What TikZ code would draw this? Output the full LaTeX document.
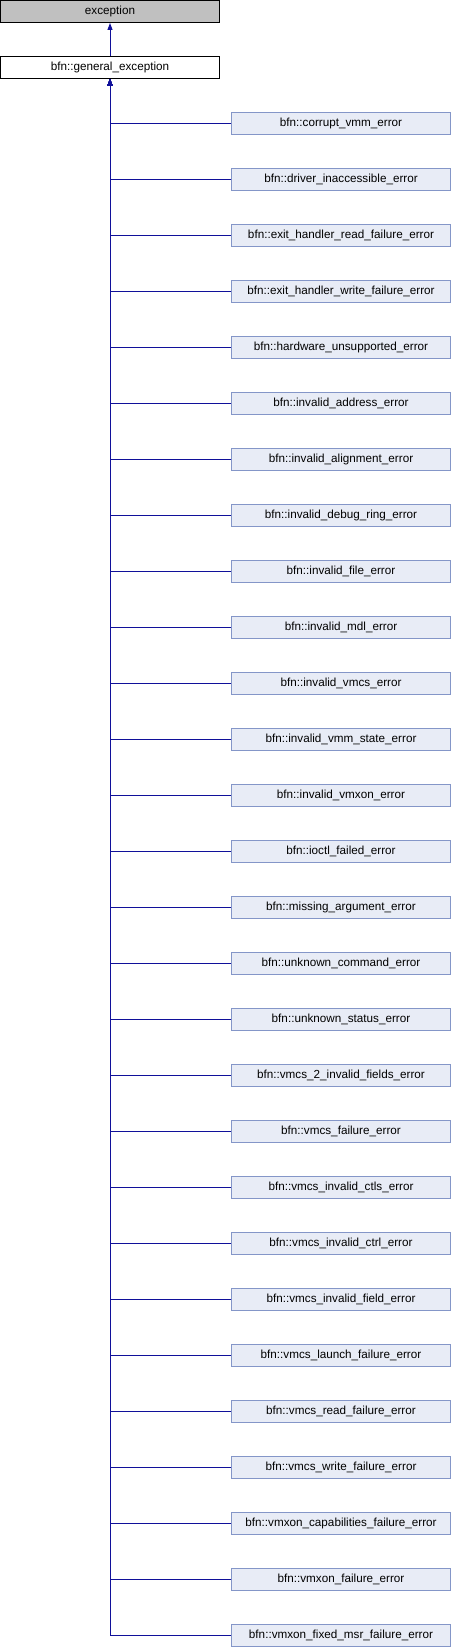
\documentclass[tikz,border=0pt]{standalone}
\usepackage{fontspec}
\setmainfont{Liberation Sans}
\usetikzlibrary{arrows.meta}
\definecolor{linec}{HTML}{10109A}
\definecolor{childfill}{HTML}{E8ECF6}
\definecolor{childdraw}{HTML}{8496C8}
\definecolor{basefill}{HTML}{C0C0C0}
\begin{document}
\begin{tikzpicture}[x=1pt,y=-1pt,
  box/.style={minimum width=219pt,minimum height=22pt,inner sep=0pt,line width=1pt,font=\fontsize{11.7}{13}\selectfont,anchor=center},
  basebox/.style={box,draw=black,fill=basefill},
  genbox/.style={box,draw=black,fill=white},
  childbox/.style={box,draw=childdraw,fill=childfill},
  conn/.style={draw=linec,line width=1pt,-{Triangle[length=7pt,width=5pt]}}]
\useasboundingbox (0,0) rectangle (452,1648);
\node[basebox] (exc) at (110,11.5) {exception};
\node[genbox] (gen) at (110,67.5) {bfn::general\_exception};
\draw[conn] (gen.north) -- (exc.south);
\foreach \lab [count=\i] in {corrupt\_vmm\_error,driver\_inaccessible\_error,exit\_handler\_read\_failure\_error,exit\_handler\_write\_failure\_error,hardware\_unsupported\_error,invalid\_address\_error,invalid\_alignment\_error,invalid\_debug\_ring\_error,invalid\_file\_error,invalid\_mdl\_error,invalid\_vmcs\_error,invalid\_vmm\_state\_error,invalid\_vmxon\_error,ioctl\_failed\_error,missing\_argument\_error,unknown\_command\_error,unknown\_status\_error,vmcs\_2\_invalid\_fields\_error,vmcs\_failure\_error,vmcs\_invalid\_ctls\_error,vmcs\_invalid\_ctrl\_error,vmcs\_invalid\_field\_error,vmcs\_launch\_failure\_error,vmcs\_read\_failure\_error,vmcs\_write\_failure\_error,vmxon\_capabilities\_failure\_error,vmxon\_failure\_error,vmxon\_fixed\_msr\_failure\_error}{
  \node[childbox] (c\i) at (341,{123.5+56*(\i-1)}) {bfn::\lab};
  \draw[conn] (c\i.west) -| (gen.south);
}
\end{tikzpicture}
\end{document}
